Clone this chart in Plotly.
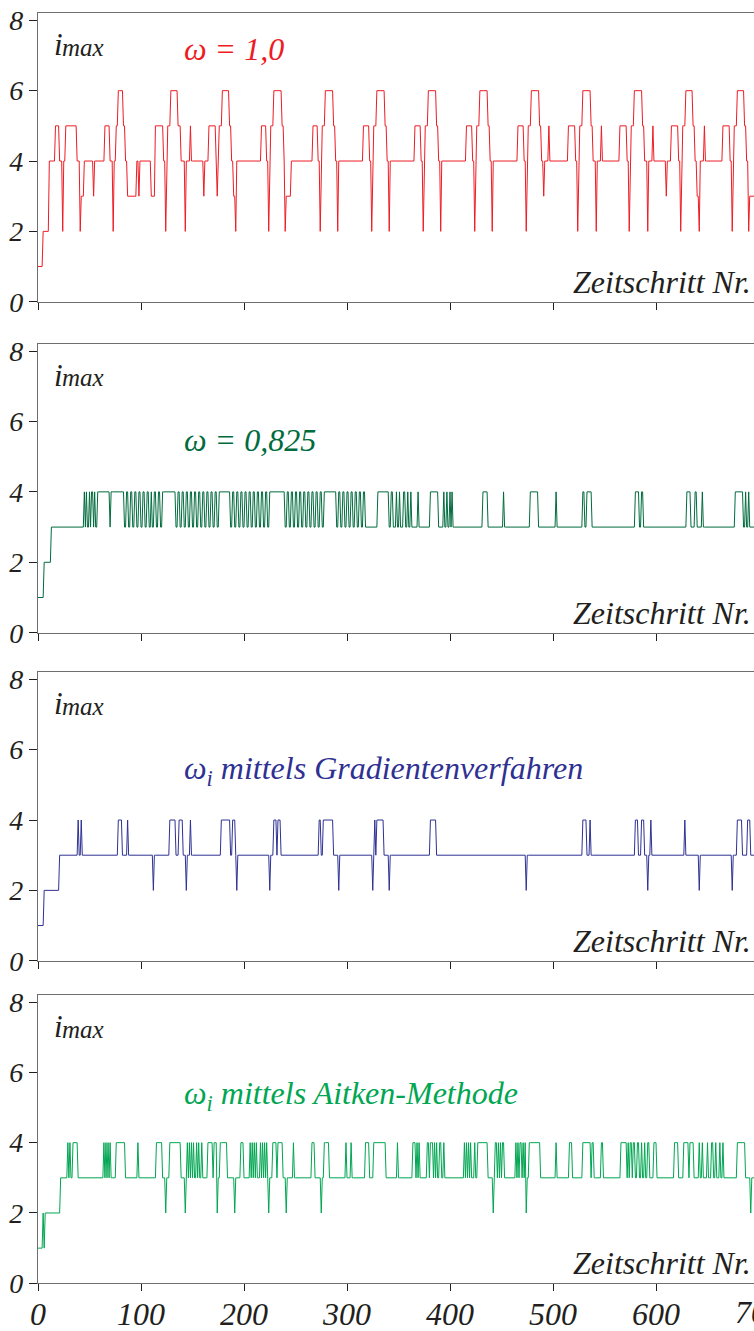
import numpy as np
import plotly.graph_objects as go

FIG_W, FIG_H = 754, 1331
N_STEPS = 700

# i_max per time step, stored as runs: (first time step, value held from there on)
runs_omega_10 = [
    (0, 1), (5, 2), (11, 4), (17, 5), (21, 4), (24, 2), (25, 4), (27, 5), (38, 4), (41, 2), (42, 3),
    (45, 4), (54, 3), (55, 4), (65, 5), (70, 4), (73, 2), (74, 4), (76, 5), (78, 6), (83, 5), (85, 4),
    (87, 3), (96, 4), (98, 3), (99, 4), (110, 3), (114, 5), (122, 4), (124, 2), (125, 4), (126, 5),
    (129, 6), (136, 5), (139, 4), (143, 2), (144, 4), (148, 5), (149, 4), (161, 3), (162, 4), (166, 5),
    (173, 4), (174, 3), (175, 4), (176, 5), (179, 6), (186, 5), (188, 4), (190, 3), (192, 2), (193, 4),
    (217, 5), (222, 4), (224, 2), (225, 4), (226, 5), (229, 6), (237, 5), (239, 4), (240, 2), (241, 3),
    (246, 4), (267, 5), (272, 4), (274, 2), (275, 4), (276, 5), (279, 6), (287, 5), (289, 4), (291, 2),
    (292, 4), (316, 5), (322, 4), (324, 2), (325, 4), (326, 5), (329, 6), (337, 5), (339, 4), (341, 2),
    (342, 4), (366, 5), (372, 4), (374, 2), (375, 4), (376, 5), (379, 6), (387, 5), (389, 4), (391, 2),
    (392, 4), (416, 5), (422, 4), (424, 2), (425, 4), (426, 5), (429, 6), (437, 5), (439, 4), (441, 2),
    (442, 4), (466, 5), (472, 4), (474, 2), (475, 4), (476, 5), (479, 6), (487, 5), (489, 4), (491, 3),
    (492, 4), (496, 5), (497, 4), (515, 5), (522, 4), (524, 2), (525, 4), (526, 5), (529, 6), (537, 5),
    (539, 4), (542, 2), (543, 4), (547, 5), (548, 4), (565, 5), (572, 4), (574, 2), (575, 4), (576, 5),
    (579, 6), (587, 5), (589, 4), (592, 2), (593, 4), (597, 5), (598, 4), (610, 3), (611, 4), (615, 5),
    (622, 4), (624, 2), (625, 4), (626, 5), (629, 6), (636, 5), (638, 4), (640, 3), (642, 2), (643, 4),
    (647, 5), (648, 4), (665, 5), (672, 4), (674, 2), (675, 4), (676, 5), (679, 6), (686, 5), (688, 4),
    (690, 2), (691, 3),
]

runs_omega_0825 = [
    (0, 1), (6, 2), (13, 3), (45, 4), (46, 3), (47, 4), (48, 3), (50, 4), (51, 3), (52, 4), (54, 3),
    (55, 4), (56, 3), (58, 4), (70, 3), (71, 4), (84, 3), (86, 4), (88, 3), (90, 4), (92, 3), (94, 4),
    (96, 3), (98, 4), (100, 3), (102, 4), (104, 3), (106, 4), (108, 3), (110, 4), (111, 3), (113, 4),
    (115, 3), (117, 4), (119, 3), (121, 4), (134, 3), (136, 4), (138, 3), (140, 4), (142, 3), (144, 4),
    (146, 3), (148, 4), (150, 3), (152, 4), (154, 3), (156, 4), (158, 3), (160, 4), (162, 3), (164, 4),
    (166, 3), (168, 4), (170, 3), (172, 4), (174, 3), (176, 4), (187, 3), (189, 4), (191, 3), (193, 4),
    (195, 3), (197, 4), (199, 3), (201, 4), (203, 3), (205, 4), (207, 3), (209, 4), (211, 3), (213, 4),
    (215, 3), (217, 4), (219, 3), (221, 4), (223, 3), (225, 4), (240, 3), (242, 4), (244, 3), (246, 4),
    (248, 3), (250, 4), (252, 3), (254, 4), (256, 3), (258, 4), (260, 3), (262, 4), (264, 3), (266, 4),
    (268, 3), (270, 4), (272, 3), (274, 4), (276, 3), (278, 4), (290, 3), (292, 4), (294, 3), (296, 4),
    (298, 3), (300, 4), (302, 3), (304, 4), (306, 3), (308, 4), (310, 3), (312, 4), (314, 3), (316, 4),
    (318, 3), (330, 4), (341, 3), (343, 4), (345, 3), (348, 4), (349, 3), (351, 4), (352, 3), (355, 4),
    (357, 3), (359, 4), (360, 3), (362, 4), (363, 3), (369, 4), (370, 3), (381, 4), (389, 3), (394, 4),
    (395, 3), (397, 4), (398, 3), (400, 4), (401, 3), (402, 4), (403, 3), (432, 4), (437, 3), (452, 4),
    (453, 3), (478, 4), (486, 3), (503, 4), (504, 3), (529, 4), (531, 3), (533, 4), (538, 3), (580, 4),
    (584, 3), (586, 4), (588, 3), (630, 4), (634, 3), (638, 4), (640, 3), (645, 4), (646, 3), (677, 4),
    (685, 3), (687, 4), (688, 3), (690, 4), (691, 3),
]

runs_gradient = [
    (0, 1), (6, 2), (21, 3), (39, 4), (40, 3), (42, 4), (43, 3), (78, 4), (82, 3), (87, 4), (88, 3),
    (112, 2), (113, 3), (128, 4), (134, 3), (137, 4), (141, 3), (144, 2), (145, 3), (148, 4), (149, 3),
    (178, 4), (187, 3), (189, 4), (192, 3), (193, 2), (194, 3), (225, 2), (226, 3), (229, 4), (232, 3),
    (233, 4), (236, 3), (273, 4), (275, 3), (277, 4), (287, 3), (292, 2), (293, 3), (325, 2), (326, 3),
    (327, 4), (328, 3), (329, 4), (336, 3), (341, 2), (342, 3), (381, 4), (387, 3), (474, 2), (475, 3),
    (529, 4), (533, 3), (536, 4), (537, 3), (580, 4), (583, 3), (586, 4), (589, 3), (592, 2), (593, 3),
    (595, 4), (596, 3), (628, 4), (629, 3), (642, 2), (643, 3), (674, 2), (675, 3), (679, 4), (684, 3),
    (689, 4), (692, 3),
]

runs_aitken = [
    (0, 1), (5, 2), (6, 1), (7, 2), (22, 3), (29, 4), (30, 3), (31, 4), (32, 3), (34, 4), (39, 3),
    (64, 4), (65, 3), (66, 4), (67, 3), (68, 4), (69, 3), (70, 4), (71, 3), (76, 4), (85, 3), (97, 4),
    (98, 3), (115, 4), (121, 3), (124, 2), (125, 3), (128, 4), (139, 3), (143, 2), (144, 3), (145, 4),
    (146, 3), (147, 4), (148, 3), (149, 4), (150, 3), (151, 4), (152, 3), (154, 4), (155, 3), (156, 4),
    (157, 3), (159, 4), (160, 3), (165, 4), (170, 3), (171, 4), (174, 2), (175, 3), (177, 4), (184, 3),
    (191, 2), (192, 3), (197, 4), (200, 3), (206, 4), (207, 3), (208, 4), (209, 3), (210, 4), (211, 3),
    (212, 4), (213, 3), (216, 4), (217, 3), (218, 4), (219, 3), (220, 4), (221, 3), (222, 4), (223, 3),
    (224, 2), (225, 3), (228, 4), (232, 3), (233, 4), (238, 3), (241, 2), (242, 3), (248, 4), (249, 3),
    (266, 4), (269, 3), (275, 2), (276, 3), (278, 4), (283, 3), (299, 4), (300, 3), (304, 4), (305, 3),
    (318, 4), (322, 3), (326, 4), (338, 3), (349, 4), (350, 3), (364, 4), (367, 3), (368, 4), (369, 3),
    (370, 4), (371, 3), (378, 4), (380, 3), (381, 4), (384, 3), (385, 4), (386, 3), (387, 4), (388, 3),
    (390, 4), (392, 3), (394, 4), (395, 3), (414, 4), (415, 3), (416, 4), (417, 3), (418, 4), (419, 3),
    (420, 4), (421, 3), (424, 4), (425, 3), (427, 4), (437, 3), (442, 2), (443, 3), (444, 4), (446, 3),
    (447, 4), (448, 3), (449, 4), (450, 3), (451, 4), (453, 3), (464, 4), (465, 3), (466, 4), (467, 3),
    (468, 4), (470, 3), (471, 4), (472, 3), (473, 4), (474, 2), (475, 3), (477, 4), (488, 3), (503, 4),
    (504, 3), (516, 4), (519, 3), (529, 4), (537, 3), (538, 4), (540, 3), (547, 4), (549, 3), (566, 4),
    (572, 3), (573, 4), (574, 3), (575, 4), (577, 3), (578, 4), (580, 3), (582, 4), (584, 3), (586, 4),
    (587, 3), (589, 4), (590, 3), (592, 4), (594, 3), (598, 4), (601, 3), (618, 4), (622, 3), (627, 4),
    (632, 3), (633, 4), (637, 3), (642, 4), (643, 3), (645, 4), (646, 3), (650, 4), (651, 3), (654, 4),
    (656, 3), (658, 4), (659, 3), (662, 4), (663, 3), (665, 4), (666, 3), (679, 4), (687, 3), (692, 2),
    (693, 3),
]

series_runs = [runs_omega_10, runs_omega_0825, runs_gradient, runs_aitken]
panel_labels = [
    "ω = 1,0",
    "ω = 0,825",
    "ω<sub>i</sub> mittels Gradientenverfahren",
    "ω<sub>i</sub> mittels Aitken-Methode",
]
panel_colors = ["#ed1c24", "#006b3d", "#2e3192", "#00a651"]
x_tick_values = [0, 100, 200, 300, 400, 500, 600, 700]
y_tick_values = [0, 2, 4, 6, 8]
axis_title_y = ("i", "max")
axis_title_x = "Zeitschritt Nr."

TEXT_COLOR = "#231f20"
FRAME_COLOR = "#6d6e71"
SERIF = "Times New Roman"

# pixel geometry of the four panels: (frame top, zero line)
panel_px = [(13.3, 301.7), (344.0, 632.7), (672.3, 960.7), (995.0, 1283.3)]
X_LEFT_PX = 38
X_RANGE = [0, (FIG_W - X_LEFT_PX) / 1.03]


def py(px):
    return 1 - px / FIG_H


def px_x(px):
    return (px - X_LEFT_PX) / (FIG_W - X_LEFT_PX)


def expand(runs):
    starts = np.array([r[0] for r in runs])
    values = np.array([r[1] for r in runs])
    steps = np.arange(N_STEPS + 1)
    return steps, values[np.searchsorted(starts, steps, side="right") - 1]


fig = go.Figure()
annotations = []
layout_axes = {}
label_offsets = [36, 96, 98, 100]

for k, (runs, color, label) in enumerate(zip(series_runs, panel_colors, panel_labels)):
    n = k + 1
    xname = "x" if n == 1 else f"x{n}"
    yname = "y" if n == 1 else f"y{n}"
    steps, vals = expand(runs)
    fig.add_trace(go.Scatter(
        x=steps, y=vals, mode="lines", xaxis=xname, yaxis=yname,
        line=dict(color=color, width=1.0), showlegend=False, hoverinfo="skip",
    ))
    top_px, zero_px = panel_px[k]
    bottom = (n == 4)
    layout_axes["xaxis" if n == 1 else f"xaxis{n}"] = dict(
        domain=[0, 1], range=X_RANGE, anchor=yname, automargin=False,
        showline=True, linecolor=FRAME_COLOR, linewidth=1.3, mirror=True,
        ticks="outside", tickvals=x_tick_values, ticklen=7, tickwidth=1.2, tickcolor=TEXT_COLOR,
        showticklabels=bottom, showgrid=False, zeroline=False, ticklabelstandoff=-5,
        tickfont=dict(family=SERIF, size=32, color=TEXT_COLOR, style="italic"),
    )
    layout_axes["yaxis" if n == 1 else f"yaxis{n}"] = dict(
        domain=[py(zero_px), py(top_px)], range=[0, 8.2], anchor=xname, automargin=False,
        showline=True, linecolor=FRAME_COLOR, linewidth=1.3, mirror=False,
        ticks="outside", tickvals=y_tick_values, ticklen=8, tickwidth=1.2, tickcolor=TEXT_COLOR,
        showgrid=False, zeroline=False,
        tickfont=dict(family=SERIF, size=28, color=TEXT_COLOR, style="italic"),
    )
    # i_max caption in the upper left corner
    annotations.append(dict(
        text=axis_title_y[0], xref="paper", yref="paper", x=px_x(52), y=py(top_px + 31),
        xanchor="left", yanchor="middle", showarrow=False,
        font=dict(family=SERIF, size=31, color=TEXT_COLOR, style="italic"),
    ))
    annotations.append(dict(
        text=axis_title_y[1], xref="paper", yref="paper", x=px_x(60), y=py(top_px + 34),
        xanchor="left", yanchor="middle", showarrow=False,
        font=dict(family=SERIF, size=25, color=TEXT_COLOR, style="italic"),
    ))
    # relaxation-factor caption
    annotations.append(dict(
        text=label, xref="paper", yref="paper", x=px_x(182), y=py(top_px + label_offsets[k]),
        xanchor="left", yanchor="middle", showarrow=False,
        font=dict(family=SERIF, size=32, color=color, style="italic"),
    ))
    # time-step caption along the lower right edge
    annotations.append(dict(
        text=axis_title_x, xref="paper", yref="paper", x=px_x(753), y=py(zero_px - 20),
        xanchor="right", yanchor="middle", showarrow=False,
        font=dict(family=SERIF, size=32, color=TEXT_COLOR, style="italic"),
    ))

# last tick label sits at the right border of the page
annotations.append(dict(
    text=str(x_tick_values[-1]), xref="paper", yref="paper",
    x=px_x(X_LEFT_PX + 1.03 * x_tick_values[-1]), y=py(1312),
    xanchor="center", yanchor="middle", showarrow=False,
    font=dict(family=SERIF, size=32, color=TEXT_COLOR, style="italic"),
))

fig.update_layout(
    template="none",
    width=FIG_W, height=FIG_H,
    margin=dict(l=X_LEFT_PX, r=0, t=0, b=0),
    paper_bgcolor="white", plot_bgcolor="white",
    annotations=annotations,
    **layout_axes,
)

fig.write_html("out.html")
